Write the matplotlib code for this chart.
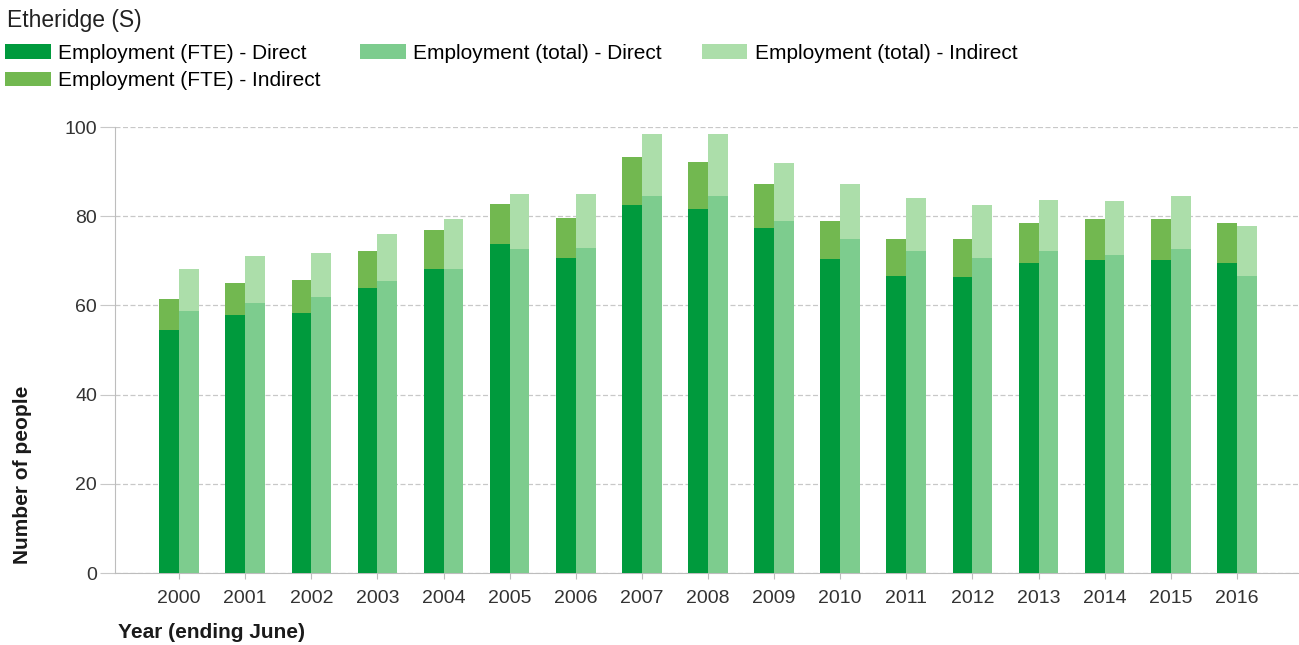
import matplotlib
matplotlib.use("Agg")
import matplotlib.pyplot as plt
import numpy as np

plt.rcParams["font.family"] = ["Liberation Sans", "DejaVu Sans"]

# values
years = ["2000", "2001", "2002", "2003", "2004", "2005", "2006", "2007", "2008",
         "2009", "2010", "2011", "2012", "2013", "2014", "2015", "2016"]

fte_direct = [54.4, 57.8, 58.3, 63.8, 68.2, 73.7, 70.6, 82.6, 81.7,
              77.4, 70.3, 66.7, 66.4, 69.4, 70.1, 70.1, 69.4]
fte_indirect = [7.0, 7.2, 7.5, 8.3, 8.8, 9.1, 9.1, 10.7, 10.4,
                9.9, 8.6, 8.3, 8.6, 9.1, 9.2, 9.2, 9.1]
total_direct = [58.7, 60.5, 61.9, 65.4, 68.2, 72.6, 72.9, 84.5, 84.5,
                78.9, 75.0, 72.2, 70.7, 72.1, 71.4, 72.6, 66.6]
total_indirect = [9.5, 10.5, 9.8, 10.7, 11.1, 12.3, 12.0, 14.0, 14.0,
                  13.1, 12.3, 11.9, 11.7, 11.6, 11.9, 11.9, 11.1]

c_fte_dir = "#009a3d"
c_fte_ind = "#72b850"
c_tot_dir = "#7dcc8e"
c_tot_ind = "#acdeaa"
grid_col = "#c8c8c8"

fig = plt.figure(figsize=(12.99, 6.45), dpi=100)
ax = fig.add_axes([115 / 1299, 1 - 573 / 645, 1 - 115 / 1299, (573 - 127) / 645])

x = np.arange(len(years))
w = 0.3

b1 = ax.bar(x - w / 2, fte_direct, w, color=c_fte_dir, zorder=3)
b2 = ax.bar(x - w / 2, fte_indirect, w, bottom=fte_direct, color=c_fte_ind, zorder=3)
b3 = ax.bar(x + w / 2, total_direct, w, color=c_tot_dir, zorder=3)
b4 = ax.bar(x + w / 2, total_indirect, w, bottom=total_direct, color=c_tot_ind, zorder=3)

ax.set_xlim(-0.97, 16.94)
ax.set_ylim(0, 100)
ax.set_yticks([0, 20, 40, 60, 80, 100])
ax.set_xticks(x)
ax.set_xticklabels(years)

ax.yaxis.grid(True, color=grid_col, linestyle=(0, (4, 2)), linewidth=0.9, zorder=0)
for s in ["top", "right"]:
    ax.spines[s].set_visible(False)
ax.spines["left"].set_color("#bdbdbd")
ax.spines["bottom"].set_color("#bdbdbd")

ax.tick_params(axis="y", length=11, color=grid_col, pad=2, labelsize=14, labelcolor="#333333")
ax.tick_params(axis="x", length=4, color="#bdbdbd", pad=8, labelsize=14, labelcolor="#333333")

fig.text(7 / 1299, 1 - 20 / 645, "Etheridge (S)", fontsize=16.5, va="center", ha="left", color="#222222")

fig.legend([b1, b2, b3, b4],
           ["Employment (FTE) - Direct", "Employment (FTE) - Indirect",
            "Employment (total) - Direct", "Employment (total) - Indirect"],
           ncol=3, loc="upper left", bbox_to_anchor=(5 / 1299, 1 - 44 / 645),
           frameon=False, fontsize=15, borderpad=0, borderaxespad=0,
           handlelength=2.2, handleheight=0.7, handletextpad=0.35,
           columnspacing=1.9, labelspacing=0.4)

fig.text(23 / 1299, 1 - 475 / 645, "Number of people", rotation=90, fontsize=15,
         fontweight="bold", va="center", ha="center", color="#1a1a1a")
fig.text(118 / 1299, 1 - 633 / 645, "Year (ending June)", fontsize=15,
         fontweight="bold", va="center", ha="left", color="#1a1a1a")

fig.savefig("out.png", dpi=100)
